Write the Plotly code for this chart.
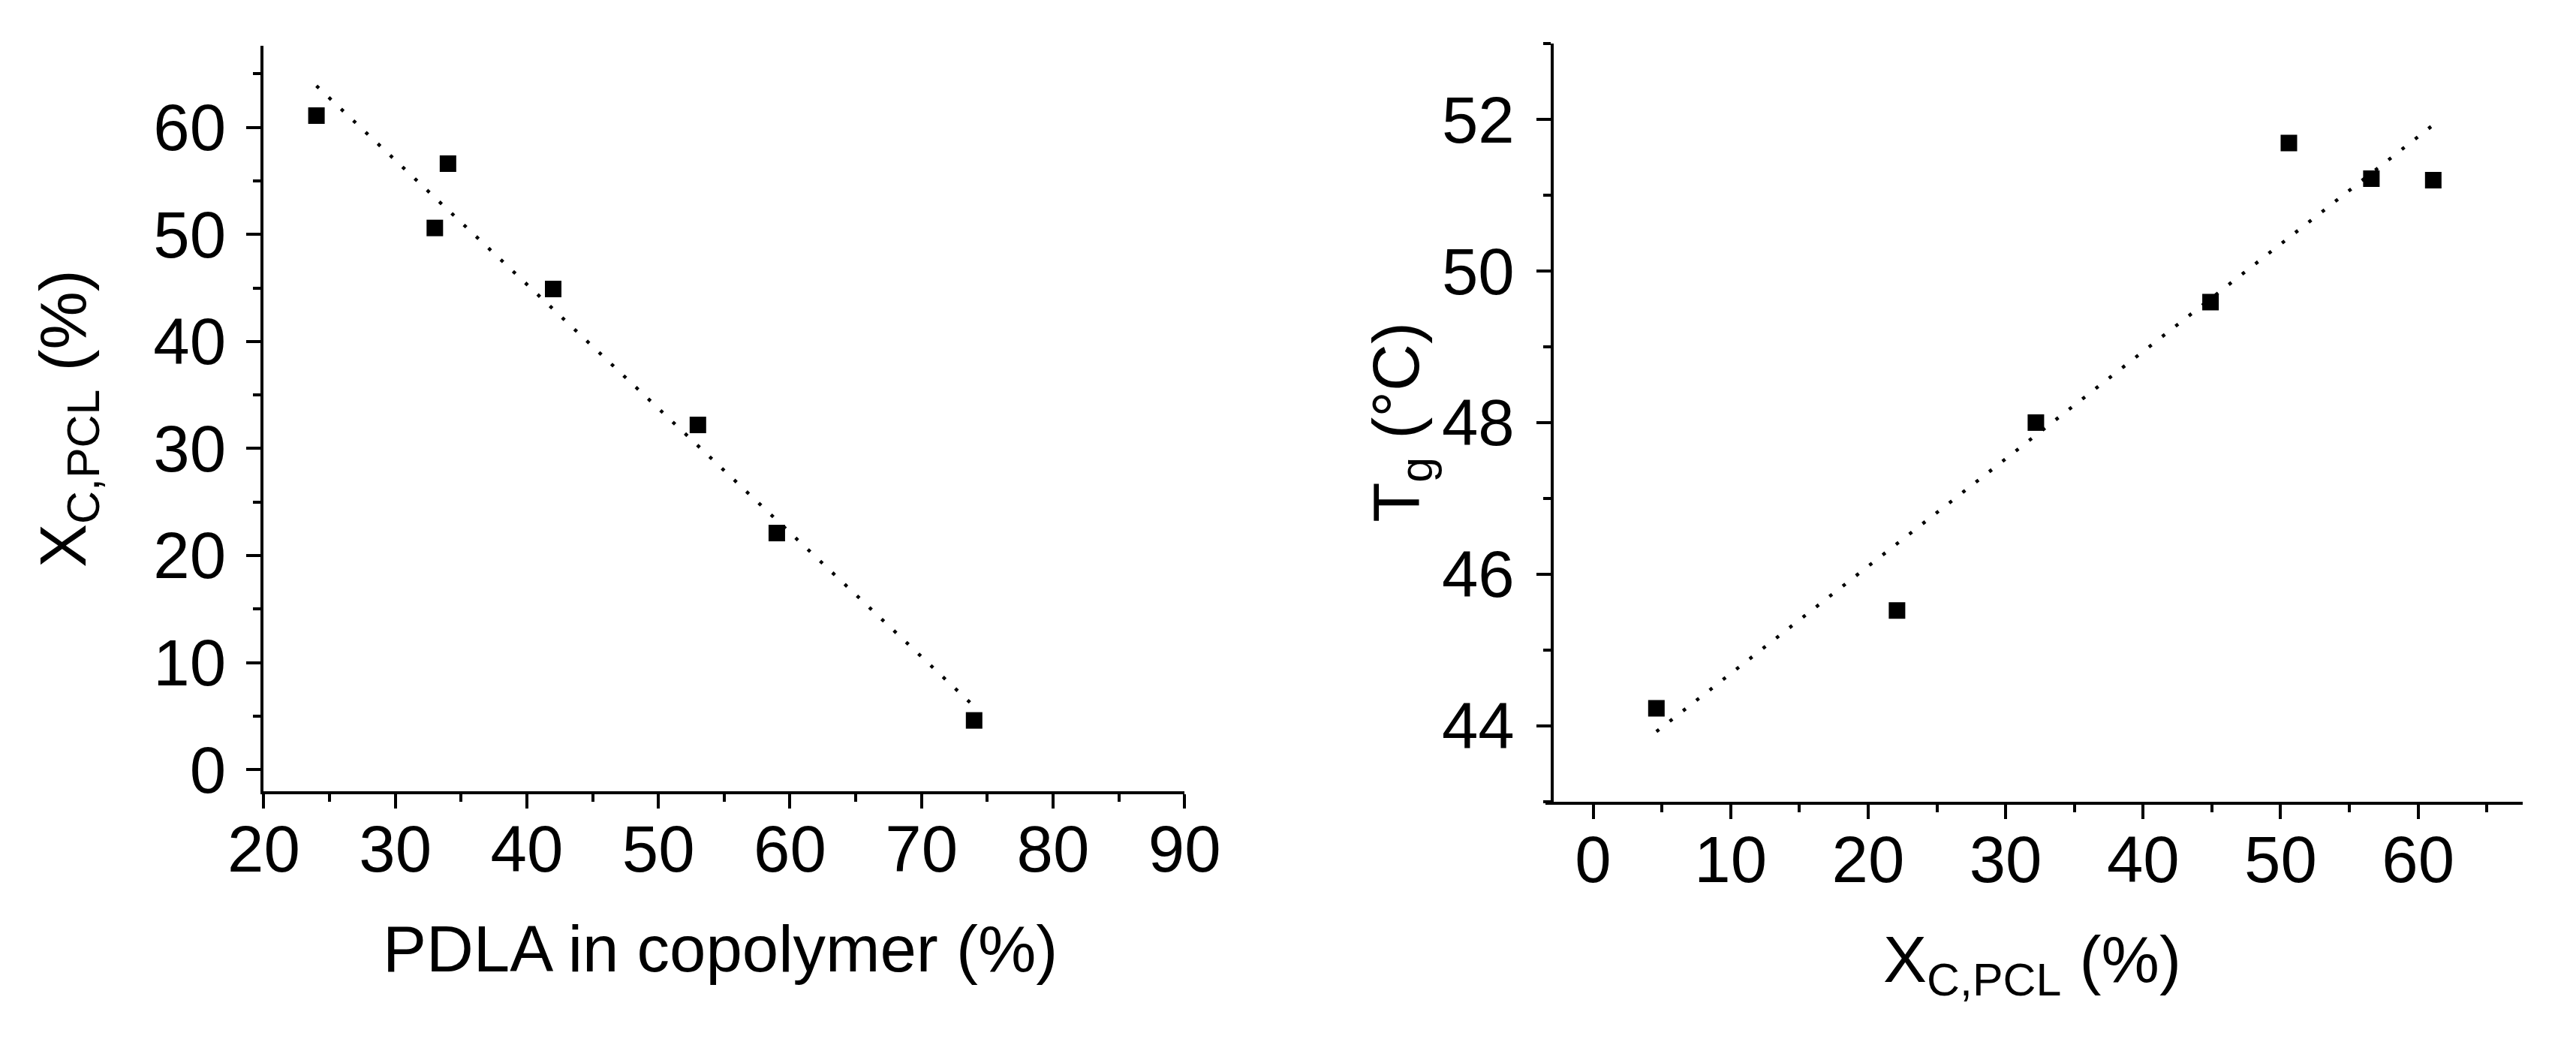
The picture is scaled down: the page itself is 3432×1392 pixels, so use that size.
import numpy as np
import plotly.graph_objects as go

# ---- data ----
pdla_pct = [24, 33, 34, 42, 53, 59, 74]                 # PDLA in copolymer (%)
xc_pcl = [61.1, 50.6, 56.6, 44.9, 32.2, 22.1, 4.6]      # X_C,PCL (%)
tg_c = [51.2, 51.69, 51.22, 49.59, 48.0, 45.52, 44.23]  # Tg (°C)

left_xticks = [20, 30, 40, 50, 60, 70, 80, 90]
left_yticks = [0, 10, 20, 30, 40, 50, 60]
right_xticks = [0, 10, 20, 30, 40, 50, 60]
right_yticks = [44, 46, 48, 50, 52]

W, H = 3432, 1392
FONT = "Liberation Sans, Arial, sans-serif"


def px(x):
    return x / W


def py(y):
    return 1 - y / H


fig = go.Figure()

# linear fits (drawn over the data range)
s1, b1 = np.polyfit(pdla_pct, xc_pcl, 1)
fx1 = [min(pdla_pct), max(pdla_pct)]
s2, b2 = np.polyfit(xc_pcl, tg_c, 1)
fx2 = [min(xc_pcl), max(xc_pcl)]

dot_line = dict(color="black", width=4.5, dash="4.5px,18px")
fig.add_trace(go.Scatter(x=fx1, y=[s1 * v + b1 for v in fx1], mode="lines",
                         line=dot_line, xaxis="x", yaxis="y", hoverinfo="skip"))
fig.add_trace(go.Scatter(x=fx2, y=[s2 * v + b2 for v in fx2], mode="lines",
                         line=dot_line, xaxis="x2", yaxis="y2", hoverinfo="skip"))

mk = dict(symbol="square", size=22, color="black", line=dict(width=0))
fig.add_trace(go.Scatter(x=pdla_pct, y=xc_pcl, mode="markers", marker=mk,
                         xaxis="x", yaxis="y"))
fig.add_trace(go.Scatter(x=xc_pcl, y=tg_c, mode="markers", marker=mk,
                         xaxis="x2", yaxis="y2"))

common = dict(showline=True, linecolor="black", linewidth=4, ticks="outside",
              ticklen=19, tickwidth=4, tickcolor="black", showgrid=False,
              zeroline=False, tickfont=dict(family=FONT, size=87, color="black"),
              fixedrange=True)


def minor(d):
    return dict(ticks="outside", ticklen=10, tickwidth=4, tickcolor="black",
                dtick=d, tick0=0, showgrid=False)


fig.update_layout(
    width=W, height=H, margin=dict(l=0, r=0, t=0, b=0),
    paper_bgcolor="white", plot_bgcolor="white", showlegend=False,
    xaxis=dict(common, domain=[px(304), px(1566)], range=[20, 90],
               tickvals=left_xticks, minor=minor(5), anchor="y",
               ticklabelstandoff=-20),
    yaxis=dict(common, domain=[py(1061), py(54)], range=[-2, 67.6],
               tickvals=left_yticks, minor=minor(5), anchor="x",
               ticklabelstandoff=10),
    xaxis2=dict(common, domain=[px(2061), px(3400)], range=[-3.45, 67.6],
                tickvals=right_xticks, minor=minor(5), anchor="y2",
                ticklabelstandoff=-20),
    yaxis2=dict(common, domain=[py(1075), py(51)], range=[43, 53],
                tickvals=right_yticks, minor=minor(1), anchor="free",
                position=px(2070), ticklabelstandoff=12),
)

tf = dict(family=FONT, size=87, color="black")
fig.add_annotation(text="PDLA in copolymer (%)", x=px(929), y=py(1274),
                   xref="paper", yref="paper", xanchor="center", yanchor="middle",
                   showarrow=False, font=tf)
fig.add_annotation(text="Χ<sub>C,PCL</sub> (%)", x=px(35), y=py(558),
                   xref="paper", yref="paper", xanchor="center", yanchor="middle",
                   textangle=-90, showarrow=False, font=tf)
fig.add_annotation(text="T<sub>g</sub> (°C)", x=px(1862), y=py(562),
                   xref="paper", yref="paper", xanchor="center", yanchor="middle",
                   textangle=-90, showarrow=False, font=tf)
fig.add_annotation(text="Χ<sub>C,PCL</sub> (%)", x=px(2728), y=py(1295),
                   xref="paper", yref="paper", xanchor="center", yanchor="middle",
                   showarrow=False, font=tf)

fig.write_html("out.html")
